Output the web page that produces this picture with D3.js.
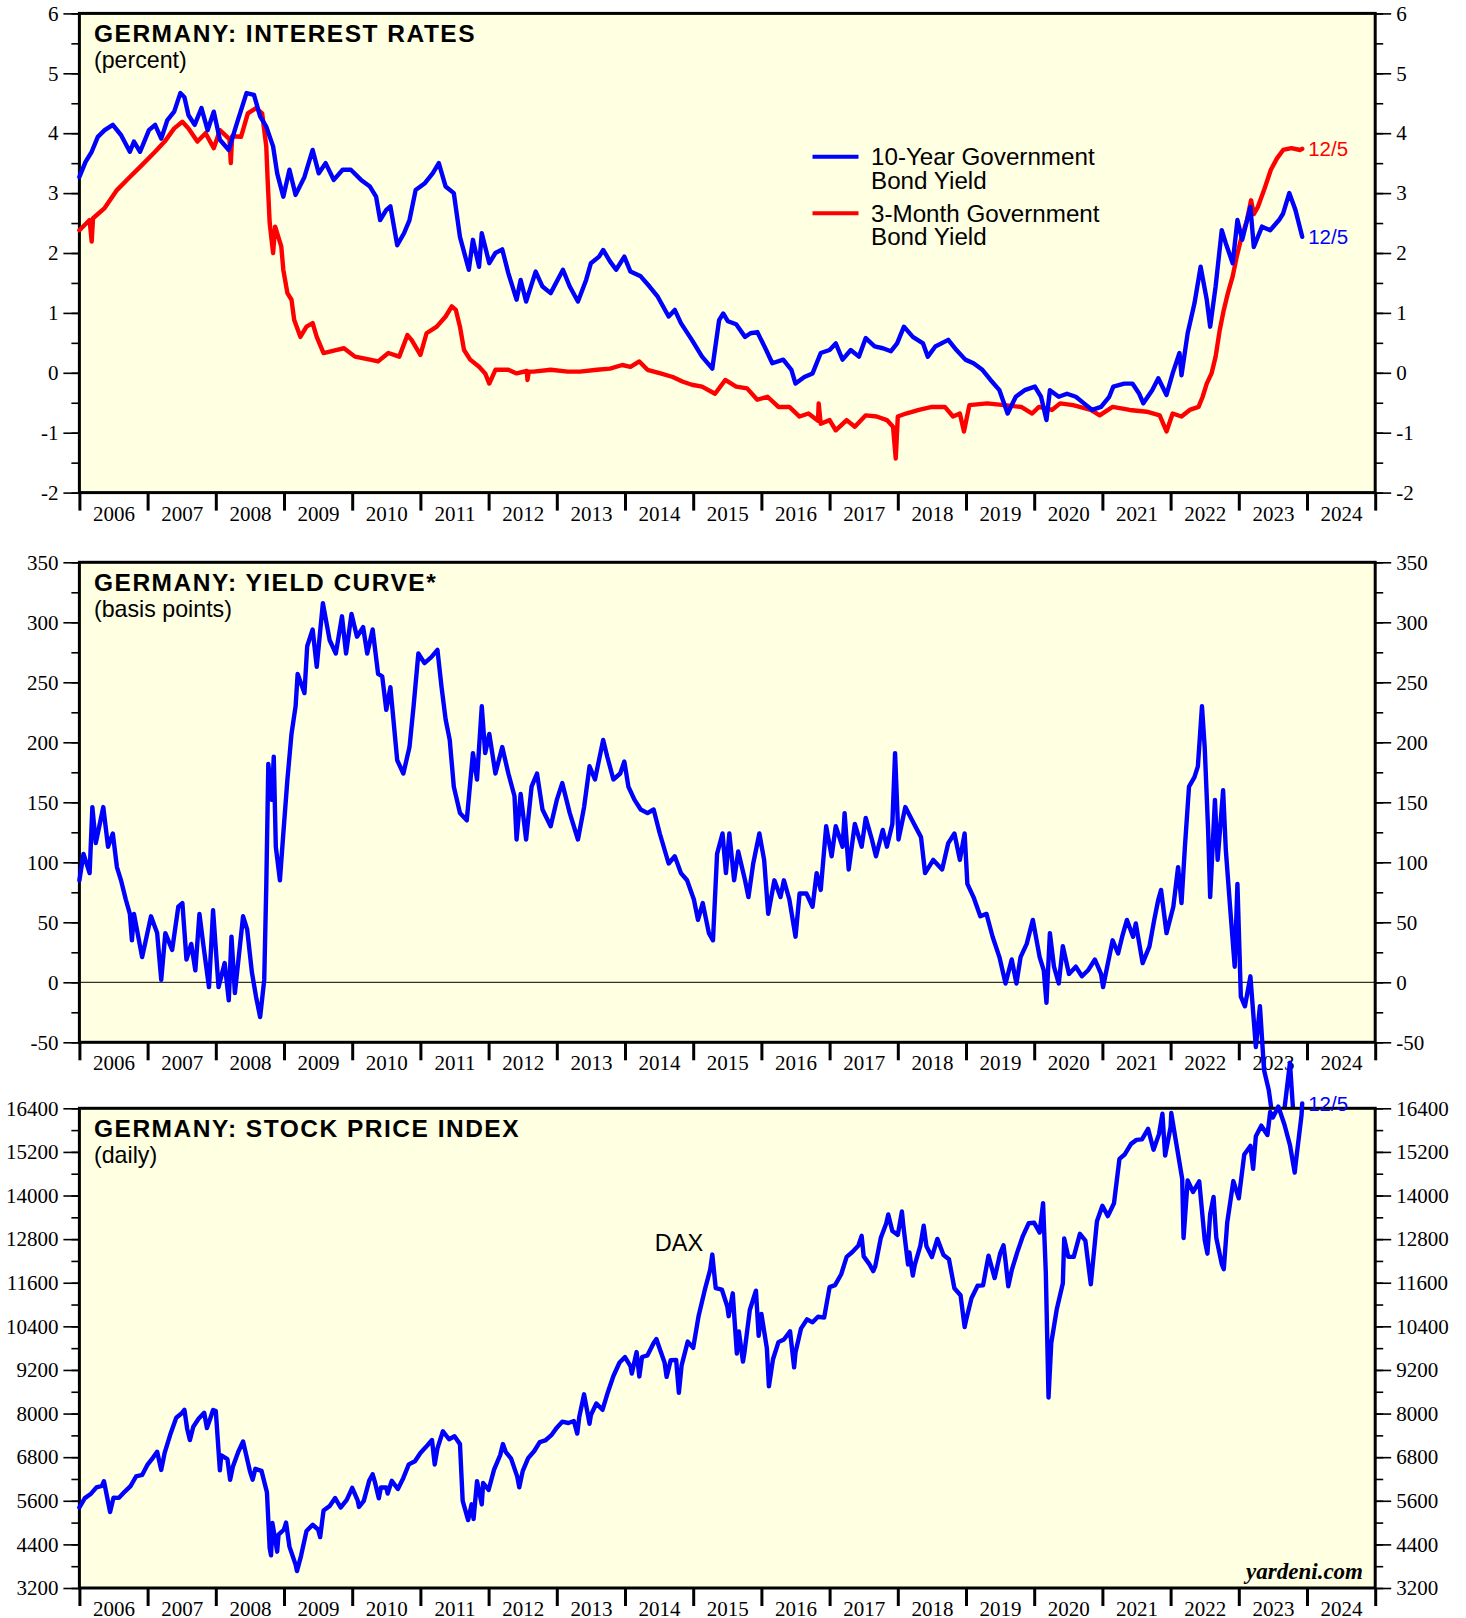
<!DOCTYPE html>
<html>
<head>
<meta charset="utf-8">
<script src="https://cdn.jsdelivr.net/npm/d3@7"></script>
<style>
html,body{margin:0;padding:0;background:#fff;}
svg{display:block;}
</style>
</head>
<body>
<svg id="chart" width="1466" height="1618"></svg>
<script>
// ---- data (decimal year, value) ----
const years=d3.range(2006,2025);
const lastDate='12/5';

const tenYear=[[2006.00,3.27],[2006.09,3.52],[2006.18,3.69],[2006.27,3.94],[2006.37,4.05],[2006.49,4.14],[2006.61,3.97],[2006.74,3.69],[2006.80,3.86],[2006.89,3.69],
[2007.02,4.05],[2007.11,4.14],[2007.20,3.91],[2007.29,4.22],[2007.39,4.36],[2007.48,4.67],[2007.54,4.60],[2007.60,4.30],[2007.69,4.14],[2007.79,4.42],[2007.88,4.05],[2007.97,4.36],
[2008.06,3.89],[2008.19,3.72],[2008.31,4.17],[2008.45,4.67],[2008.56,4.64],[2008.65,4.28],[2008.74,4.11],[2008.84,3.78],[2008.90,3.33],[2008.99,2.94],
[2009.08,3.39],[2009.17,2.97],[2009.30,3.27],[2009.42,3.72],[2009.51,3.33],[2009.61,3.50],[2009.73,3.22],[2009.86,3.39],[2009.98,3.39],
[2010.13,3.22],[2010.26,3.11],[2010.35,2.94],[2010.41,2.55],[2010.50,2.72],[2010.56,2.78],[2010.66,2.13],[2010.76,2.33],[2010.84,2.55],[2010.93,3.05],
[2011.06,3.16],[2011.18,3.33],[2011.27,3.50],[2011.37,3.11],[2011.49,3.00],[2011.58,2.27],[2011.71,1.72],[2011.77,2.22],[2011.86,1.77],[2011.90,2.33],
[2012.01,1.83],[2012.10,2.00],[2012.20,2.06],[2012.29,1.66],[2012.41,1.22],[2012.47,1.55],[2012.55,1.19],[2012.69,1.69],[2012.79,1.44],[2012.91,1.33],
[2013.09,1.72],[2013.19,1.44],[2013.31,1.19],[2013.43,1.55],[2013.50,1.83],[2013.62,1.94],[2013.68,2.05],[2013.78,1.86],[2013.87,1.72],[2013.99,1.94],
[2014.08,1.69],[2014.23,1.61],[2014.36,1.44],[2014.48,1.27],[2014.64,0.94],[2014.73,1.05],[2014.82,0.83],[2014.98,0.55],
[2015.13,0.27],[2015.28,0.07],[2015.38,0.88],[2015.44,0.99],[2015.51,0.86],[2015.63,0.81],[2015.76,0.60],[2015.84,0.66],[2015.94,0.68],
[2016.07,0.38],[2016.16,0.16],[2016.32,0.22],[2016.44,0.05],[2016.50,-0.18],[2016.63,-0.07],[2016.75,-0.01],[2016.87,0.33],
[2017.00,0.38],[2017.09,0.49],[2017.19,0.22],[2017.31,0.38],[2017.43,0.27],[2017.53,0.58],[2017.66,0.44],[2017.78,0.41],[2017.90,0.36],[2017.99,0.49],
[2018.09,0.77],[2018.22,0.60],[2018.37,0.49],[2018.44,0.27],[2018.55,0.44],[2018.74,0.55],[2018.86,0.38],[2018.99,0.22],
[2019.11,0.16],[2019.24,0.05],[2019.36,-0.12],[2019.49,-0.29],[2019.61,-0.68],[2019.73,-0.40],[2019.86,-0.29],
[2020.01,-0.23],[2020.10,-0.40],[2020.18,-0.79],[2020.23,-0.29],[2020.36,-0.40],[2020.48,-0.35],[2020.61,-0.40],[2020.73,-0.51],[2020.85,-0.62],[2020.98,-0.57],
[2021.10,-0.40],[2021.16,-0.23],[2021.32,-0.18],[2021.44,-0.18],[2021.54,-0.35],[2021.60,-0.51],[2021.73,-0.29],[2021.82,-0.09],[2021.94,-0.37],
[2022.03,-0.01],[2022.13,0.33],[2022.16,-0.04],[2022.25,0.66],[2022.35,1.16],[2022.44,1.77],[2022.53,1.22],[2022.58,0.77],[2022.66,1.44],[2022.75,2.38],[2022.81,2.16],[2022.91,1.83],[2022.98,2.55],
[2023.05,2.22],[2023.17,2.77],[2023.22,2.10],[2023.34,2.44],[2023.46,2.38],[2023.59,2.55],[2023.65,2.66],[2023.74,3.00],[2023.83,2.72],[2023.93,2.27]];

const threeMonth=[[2006.00,2.38],[2006.15,2.55],[2006.18,2.19],[2006.20,2.58],[2006.37,2.75],[2006.55,3.05],[2006.74,3.27],[2006.92,3.47],
[2007.11,3.69],[2007.25,3.86],[2007.39,4.08],[2007.51,4.19],[2007.60,4.08],[2007.73,3.86],[2007.85,4.00],[2007.97,3.75],
[2008.06,4.05],[2008.20,3.90],[2008.22,3.50],[2008.24,3.95],[2008.37,3.94],[2008.47,4.33],[2008.59,4.42],[2008.68,4.33],[2008.74,3.78],[2008.76,3.22],[2008.79,2.50],[2008.84,2.00],[2008.87,2.44],[2008.96,2.11],[2008.99,1.72],
[2009.05,1.33],[2009.11,1.22],[2009.15,0.88],[2009.24,0.60],[2009.33,0.77],[2009.42,0.83],[2009.48,0.60],[2009.58,0.33],[2009.76,0.38],[2009.88,0.41],
[2010.04,0.27],[2010.26,0.22],[2010.38,0.19],[2010.53,0.33],[2010.69,0.27],[2010.81,0.63],[2010.87,0.55],
[2011.00,0.30],[2011.09,0.66],[2011.24,0.77],[2011.37,0.94],[2011.46,1.11],[2011.52,1.05],[2011.58,0.77],[2011.64,0.38],[2011.73,0.22],[2011.86,0.10],[2011.95,-0.01],
[2012.01,-0.18],[2012.10,0.05],[2012.29,0.05],[2012.41,-0.01],[2012.56,0.03],[2012.57,-0.12],[2012.59,0.02],[2012.66,0.02],[2012.91,0.05],
[2013.16,0.02],[2013.34,0.02],[2013.59,0.05],[2013.78,0.07],[2013.96,0.13],
[2014.08,0.10],[2014.21,0.19],[2014.33,0.05],[2014.52,-0.01],[2014.70,-0.07],[2014.85,-0.15],[2014.98,-0.20],
[2015.13,-0.23],[2015.32,-0.35],[2015.47,-0.12],[2015.63,-0.23],[2015.79,-0.26],[2015.94,-0.45],
[2016.09,-0.40],[2016.25,-0.57],[2016.41,-0.57],[2016.56,-0.73],[2016.69,-0.68],[2016.83,-0.80],[2016.84,-0.51],[2016.87,-0.85],
[2017.00,-0.79],[2017.09,-0.96],[2017.25,-0.79],[2017.37,-0.90],[2017.53,-0.71],[2017.69,-0.73],[2017.84,-0.79],[2017.93,-0.90],[2017.97,-1.43],
[2018.00,-0.73],[2018.12,-0.68],[2018.31,-0.62],[2018.50,-0.57],[2018.69,-0.57],[2018.81,-0.73],[2018.91,-0.68],[2018.97,-0.98],
[2019.05,-0.54],[2019.31,-0.51],[2019.56,-0.54],[2019.81,-0.57],[2019.97,-0.68],
[2020.07,-0.57],[2020.26,-0.62],[2020.38,-0.51],[2020.57,-0.54],[2020.83,-0.62],[2020.96,-0.71],
[2021.15,-0.57],[2021.40,-0.62],[2021.65,-0.65],[2021.84,-0.71],[2021.94,-0.98],
[2022.03,-0.68],[2022.16,-0.73],[2022.28,-0.62],[2022.41,-0.57],[2022.47,-0.40],[2022.53,-0.18],[2022.60,-0.01],[2022.66,0.27],[2022.72,0.71],[2022.78,1.05],[2022.84,1.33],[2022.91,1.61],[2022.97,1.94],
[2023.03,2.22],[2023.12,2.55],[2023.18,2.88],[2023.22,2.65],[2023.28,2.77],[2023.37,3.05],[2023.47,3.39],[2023.56,3.58],[2023.65,3.72],[2023.77,3.75],[2023.90,3.72],[2023.93,3.74]];

const curve=[[2006.00,85],[2006.06,107],[2006.15,91],[2006.19,146],[2006.24,116],[2006.31,135],[2006.35,146],[2006.42,113],[2006.49,124],[2006.55,96],[2006.61,85],[2006.68,69],[2006.74,57],[2006.77,35],[2006.80,57],[2006.92,21],
[2007.05,55],[2007.14,41],[2007.20,2],[2007.26,41],[2007.36,27],[2007.45,63],[2007.51,66],[2007.57,19],[2007.64,32],[2007.70,10],[2007.76,57],[2007.82,30],[2007.90,-4],[2007.96,60],
[2008.04,-4],[2008.13,16],[2008.19,-15],[2008.23,38],[2008.28,-9],[2008.40,55],[2008.46,44],[2008.53,8],[2008.59,-12],[2008.65,-29],[2008.71,2],[2008.74,80],[2008.77,182],[2008.82,152],[2008.85,188],[2008.88,113],[2008.94,85],[2008.99,124],
[2009.05,169],[2009.11,207],[2009.17,230],[2009.20,257],[2009.30,241],[2009.34,280],[2009.42,294],[2009.48,263],[2009.57,316],[2009.67,285],[2009.76,274],[2009.85,305],[2009.91,274],[2009.99,307],
[2010.07,288],[2010.16,296],[2010.22,274],[2010.30,294],[2010.38,257],[2010.44,255],[2010.50,227],[2010.56,246],[2010.66,185],[2010.75,174],[2010.84,196],[2010.90,230],[2010.97,274],
[2011.06,266],[2011.16,271],[2011.25,277],[2011.31,246],[2011.37,219],[2011.43,202],[2011.49,163],[2011.58,141],[2011.68,135],[2011.77,191],[2011.83,169],[2011.90,230],[2011.95,191],
[2012.01,207],[2012.10,174],[2012.20,196],[2012.29,174],[2012.38,155],[2012.41,119],[2012.47,157],[2012.55,119],[2012.63,163],[2012.71,174],[2012.79,144],[2012.91,130],
[2013.00,152],[2013.08,166],[2013.19,141],[2013.31,119],[2013.40,146],[2013.48,180],[2013.56,169],[2013.68,202],[2013.74,188],[2013.83,169],[2013.93,174],[2013.99,184],
[2014.05,163],[2014.14,152],[2014.23,144],[2014.33,141],[2014.42,144],[2014.51,124],[2014.64,99],[2014.73,105],[2014.82,91],[2014.91,85],
[2015.01,69],[2015.07,52],[2015.14,66],[2015.23,41],[2015.29,35],[2015.35,107],[2015.43,124],[2015.48,91],[2015.53,124],[2015.60,85],[2015.66,109],[2015.76,85],[2015.81,71],[2015.88,99],[2015.97,124],
[2016.04,102],[2016.10,57],[2016.19,85],[2016.28,71],[2016.33,85],[2016.41,69],[2016.50,38],[2016.56,74],[2016.66,74],[2016.75,63],[2016.81,91],[2016.87,77],[2016.95,130],
[2017.03,105],[2017.09,130],[2017.19,113],[2017.22,141],[2017.28,94],[2017.37,132],[2017.47,113],[2017.53,137],[2017.62,119],[2017.68,105],[2017.78,127],[2017.84,113],[2017.92,132],[2017.96,191],
[2018.01,119],[2018.11,146],[2018.21,135],[2018.34,121],[2018.40,91],[2018.52,102],[2018.65,94],[2018.74,116],[2018.83,124],[2018.91,102],[2018.98,124],
[2019.02,82],[2019.11,71],[2019.21,55],[2019.30,57],[2019.39,38],[2019.49,21],[2019.58,-1],[2019.67,19],[2019.74,-1],[2019.80,21],[2019.89,32],[2019.98,52],
[2020.08,21],[2020.14,10],[2020.18,-17],[2020.23,41],[2020.29,13],[2020.36,-1],[2020.42,30],[2020.51,7],[2020.61,13],[2020.70,5],[2020.79,10],[2020.89,19],[2020.98,7],
[2021.01,-4],[2021.07,13],[2021.15,35],[2021.23,24],[2021.29,38],[2021.36,52],[2021.45,38],[2021.49,49],[2021.59,16],[2021.69,30],[2021.76,52],[2021.82,69],[2021.86,77],[2021.94,41],
[2022.04,63],[2022.11,96],[2022.16,66],[2022.21,113],[2022.27,163],[2022.35,171],[2022.40,180],[2022.46,230],[2022.50,196],[2022.55,127],[2022.58,71],[2022.65,152],[2022.69,102],[2022.77,160],[2022.81,110],[2022.88,57],[2022.94,13],[2022.98,82],
[2023.03,-12],[2023.09,-20],[2023.17,5],[2023.25,-54],[2023.31,-20],[2023.37,-73],[2023.44,-90],[2023.50,-115],[2023.58,-125],[2023.66,-110],[2023.75,-67],[2023.80,-110],[2023.87,-140],[2023.93,-147]];

const dax=[[2006.00,5420],[2006.08,5674],[2006.17,5796],[2006.25,5970],[2006.33,6009],[2006.36,6140],[2006.45,5292],[2006.50,5683],[2006.58,5681],[2006.67,5860],[2006.75,6004],[2006.83,6269],[2006.92,6310],
[2007.00,6597],[2007.08,6789],[2007.14,6950],[2007.20,6450],[2007.25,6917],[2007.33,7409],[2007.42,7884],[2007.50,8007],[2007.54,8105],[2007.58,7584],[2007.62,7270],[2007.67,7638],[2007.75,7862],[2007.83,8019],[2007.87,7600],[2007.92,7871],[2007.96,8100],
[2008.00,8067],[2008.06,6440],[2008.08,6851],[2008.17,6748],[2008.21,6180],[2008.25,6535],[2008.33,6949],[2008.40,7230],[2008.50,6418],[2008.54,6180],[2008.58,6479],[2008.67,6422],[2008.75,5831],[2008.79,4300],[2008.81,4100],[2008.83,4988],[2008.90,4200],[2008.92,4669],
[2009.00,4810],[2009.03,5000],[2009.08,4338],[2009.17,3843],[2009.19,3666],[2009.25,4085],[2009.33,4770],[2009.42,4941],[2009.50,4809],[2009.53,4600],[2009.58,5332],[2009.67,5458],[2009.75,5675],[2009.83,5415],[2009.92,5625],
[2010.00,5957],[2010.08,5608],[2010.10,5430],[2010.17,5598],[2010.25,6154],[2010.30,6330],[2010.33,6136],[2010.39,5670],[2010.42,5964],[2010.50,5966],[2010.52,5800],[2010.58,6148],[2010.67,5925],[2010.75,6229],[2010.83,6601],[2010.92,6688],
[2011.00,6914],[2011.08,7077],[2011.17,7273],[2011.21,6600],[2011.25,7041],[2011.33,7514],[2011.42,7294],[2011.50,7376],[2011.58,7159],[2011.62,5600],[2011.70,5070],[2011.75,5502],[2011.78,5100],[2011.83,6141],[2011.90,5500],[2011.92,6089],
[2012.00,5898],[2012.08,6458],[2012.17,6856],[2012.21,7160],[2012.25,6947],[2012.33,6761],[2012.42,6264],[2012.45,5970],[2012.50,6416],[2012.58,6772],[2012.67,6970],[2012.75,7216],[2012.83,7260],[2012.92,7405],
[2013.00,7612],[2013.08,7776],[2013.17,7741],[2013.25,7795],[2013.30,7450],[2013.33,7914],[2013.40,8530],[2013.48,7720],[2013.50,7959],[2013.58,8276],[2013.67,8103],[2013.75,8594],[2013.83,9033],[2013.92,9405],
[2014.00,9552],[2014.08,9306],[2014.10,9100],[2014.17,9692],[2014.21,9020],[2014.25,9556],[2014.33,9603],[2014.42,9943],[2014.46,10050],[2014.50,9833],[2014.58,9407],[2014.61,9010],[2014.67,9470],[2014.75,9474],[2014.79,8572],[2014.83,9326],[2014.92,9980],
[2015.00,9806],[2015.08,10694],[2015.17,11402],[2015.25,11966],[2015.28,12375],[2015.33,11454],[2015.42,11413],[2015.50,10945],[2015.52,10680],[2015.58,11309],[2015.64,9650],[2015.67,10259],[2015.73,9430],[2015.75,9660],[2015.83,10850],[2015.92,11382],[2015.96,10140],
[2016.00,10743],[2016.08,9798],[2016.11,8750],[2016.17,9495],[2016.25,9966],[2016.33,10039],[2016.42,10263],[2016.48,9270],[2016.50,9680],[2016.58,10337],[2016.67,10593],[2016.75,10511],[2016.83,10665],[2016.92,10640],
[2017.00,11481],[2017.08,11535],[2017.17,11834],[2017.25,12313],[2017.33,12438],[2017.42,12615],[2017.47,12890],[2017.50,12325],[2017.58,12118],[2017.64,11920],[2017.67,12056],[2017.75,12829],[2017.83,13230],[2017.86,13480],[2017.92,13024],
[2018.00,12918],[2018.06,13560],[2018.08,13189],[2018.15,12100],[2018.17,12436],[2018.22,11800],[2018.25,12097],[2018.33,12612],[2018.38,13170],[2018.42,12605],[2018.50,12306],[2018.58,12806],[2018.67,12364],[2018.75,12247],[2018.83,11448],[2018.92,11257],[2018.98,10380],
[2019.00,10559],[2019.08,11173],[2019.17,11516],[2019.25,11526],[2019.33,12344],[2019.42,11727],[2019.50,12399],[2019.55,12630],[2019.58,12189],[2019.62,11500],[2019.67,11939],[2019.75,12428],[2019.83,12867],[2019.92,13236],
[2020.00,13249],[2020.08,12981],[2020.13,13790],[2020.17,11890],[2020.21,8440],[2020.25,9936],[2020.33,10862],[2020.42,11587],[2020.44,12820],[2020.50,12311],[2020.58,12313],[2020.67,12945],[2020.75,12761],[2020.83,11556],[2020.92,13291],
[2021.00,13719],[2021.08,13433],[2021.17,13786],[2021.25,15008],[2021.33,15136],[2021.42,15421],[2021.50,15531],[2021.58,15544],[2021.67,15835],[2021.75,15261],[2021.83,15689],[2021.88,16250],[2021.92,15100],
[2022.00,15885],[2022.01,16270],[2022.08,15471],[2022.17,14461],[2022.19,12830],[2022.25,14415],[2022.33,14098],[2022.42,14388],[2022.50,12784],[2022.54,12400],[2022.58,13484],[2022.63,13960],[2022.67,12835],[2022.75,12114],[2022.78,11975],[2022.83,13253],[2022.92,14397],
[2023.00,13924],[2023.08,15128],[2023.17,15365],[2023.21,14735],[2023.25,15629],[2023.33,15922],[2023.42,15664],[2023.46,16300],[2023.50,16148],[2023.58,16447],[2023.67,15947],[2023.75,15387],[2023.82,14630],[2023.83,14810],[2023.92,16215],[2023.93,16533]];

const rateTicks=d3.range(-2,7,1), rateMinor=d3.range(-2,6.01,0.5);
const curveTicks=d3.range(-50,351,50), curveMinor=d3.range(-50,351,25);
const daxTicks=d3.range(3200,16401,1200), daxMinor=d3.range(3200,16401,600);

// ---- layout ----
const L=79.4,R=1375.2;
const BLUE='#0000ff',RED='#ff0000',BG='#ffffe2';
const SERIF='"Liberation Serif","Times New Roman",serif';
const SANS='"Liberation Sans",Arial,Helvetica,sans-serif';
const svg=d3.select('#chart');
const x=d3.scaleLinear().domain([2006,2025]).range([L,R]);

function panel(o){
  const y=d3.scaleLinear().domain(o.domain).range([o.bottom,o.top]);
  const g=svg.append('g');
  g.append('rect').attr('x',L).attr('y',o.top).attr('width',R-L).attr('height',o.bottom-o.top).attr('fill',BG);
  if(o.zero) g.append('line').attr('x1',L).attr('x2',R).attr('y1',y(0)).attr('y2',y(0)).attr('stroke','#000').attr('stroke-width',1);

  // left/right value axes (plain hyphen for negatives, as in the original)
  [[d3.axisLeft,L],[d3.axisRight,R]].forEach(([ax,px])=>{
    g.append('g').attr('transform',`translate(${px},0)`)
      .call(ax(y).tickValues(o.minor).tickSize(8).tickFormat(''))
      .call(a=>{a.select('.domain').remove();a.selectAll('line').attr('stroke-width',1.6);});
    g.append('g').attr('transform',`translate(${px},0)`)
      .call(ax(y).tickValues(o.ticks).tickSize(16).tickPadding(5).tickFormat(d=>String(d)))
      .call(a=>{a.select('.domain').remove();a.selectAll('line').attr('stroke-width',1.6);
        a.selectAll('text').attr('font-family',SERIF).attr('font-size',21).attr('fill','#000');});
  });

  // bottom year axis: ticks at year boundaries, labels mid-year
  g.append('g').attr('transform',`translate(0,${o.bottom})`)
    .call(d3.axisBottom(x).tickValues(d3.range(2006,2026)).tickSize(18).tickFormat(''))
    .call(a=>{a.select('.domain').remove();a.selectAll('line').attr('stroke-width',3);});
  g.append('g').attr('transform',`translate(0,${o.bottom})`)
    .call(d3.axisBottom(x).tickValues(years.map(v=>v+0.5)).tickSize(0).tickPadding(13).tickFormat(v=>Math.floor(v)))
    .call(a=>{a.select('.domain').remove();
      a.selectAll('text').attr('font-family',SERIF).attr('font-size',21).attr('fill','#000');});

  g.append('rect').attr('x',L).attr('y',o.top).attr('width',R-L).attr('height',o.bottom-o.top)
    .attr('fill','none').attr('stroke','#000').attr('stroke-width',3);

  g.append('text').attr('x',94).attr('y',o.top+28.5).attr('font-family',SANS).attr('font-weight','bold')
    .attr('font-size',24.5).attr('letter-spacing',1.5).text(o.title);
  g.append('text').attr('x',94).attr('y',o.top+54.5).attr('font-family',SANS)
    .attr('font-size',23.2).text(o.sub);

  const line=d3.line().x(d=>x(d[0])).y(d=>y(d[1]));
  o.series.forEach(s=>{
    g.append('path').datum(s.data).attr('d',line).attr('fill','none').attr('stroke',s.color)
      .attr('stroke-width',4.4).attr('stroke-linejoin','round').attr('stroke-linecap','round');
    if(s.end){
      const p=s.data[s.data.length-1];
      g.append('text').attr('x',x(p[0])+6).attr('y',y(p[1])).attr('dy','0.36em')
        .attr('font-family',SANS).attr('font-size',20.5).attr('fill',s.color).text(lastDate);
    }
  });
  return {g,y};
}

// panel 1: interest rates
const p1=panel({top:13.4,bottom:492.6,domain:[-2,6],ticks:rateTicks,minor:rateMinor,
  title:'GERMANY: INTEREST RATES',sub:'(percent)',
  series:[{data:threeMonth,color:RED,end:true},{data:tenYear,color:BLUE,end:true}]});

const legend=[{label:['10-Year Government','Bond Yield'],color:BLUE,y:156.7},
              {label:['3-Month Government','Bond Yield'],color:RED,y:213.3}];
legend.forEach(d=>{
  p1.g.append('line').attr('x1',812.5).attr('x2',858.5).attr('y1',d.y).attr('y2',d.y)
    .attr('stroke',d.color).attr('stroke-width',4);
  d.label.forEach((t,i)=>p1.g.append('text').attr('x',871).attr('y',d.y+8.5+i*23.6)
    .attr('font-family',SANS).attr('font-size',24.2).text(t));
});

// panel 2: yield curve (line left unclipped, the next panel covers the overflow)
panel({top:562.3,bottom:1042.3,domain:[-50,350],ticks:curveTicks,minor:curveMinor,zero:true,
  title:'GERMANY: YIELD CURVE*',sub:'(basis points)',
  series:[{data:curve,color:BLUE}]});

// panel 3: DAX
const p3=panel({top:1108.3,bottom:1588,domain:[3200,16400],ticks:daxTicks,minor:daxMinor,
  title:'GERMANY: STOCK PRICE INDEX',sub:'(daily)',
  series:[{data:dax,color:BLUE,end:true}]});

p3.g.append('text').attr('x',679).attr('y',1251).attr('text-anchor','middle')
  .attr('font-family',SANS).attr('font-size',23.5).text('DAX');
p3.g.append('text').attr('x',1363).attr('y',1579).attr('text-anchor','end')
  .attr('font-family',SERIF).attr('font-weight','bold').attr('font-style','italic')
  .attr('font-size',23).text('yardeni.com');
</script>
</body>
</html>
